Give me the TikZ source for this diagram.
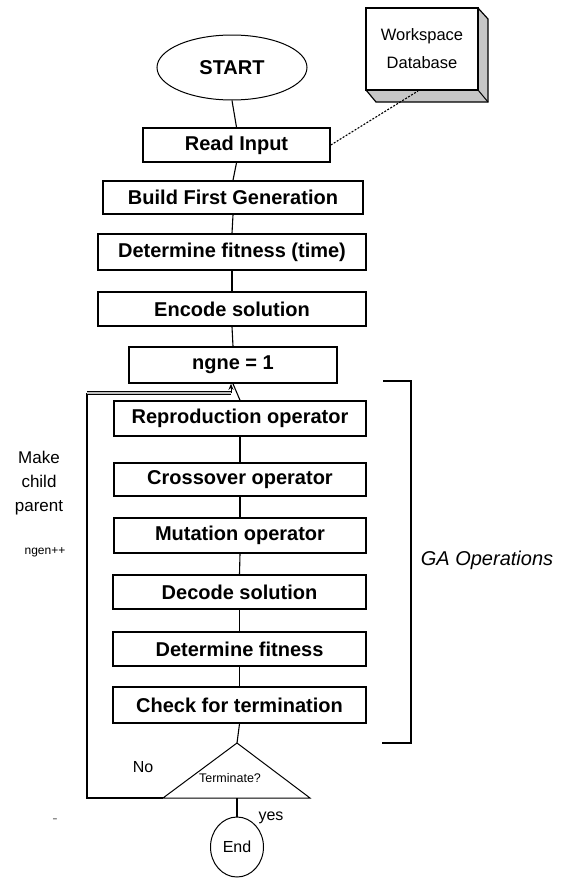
\documentclass[tikz,border=0pt]{standalone}
\usepackage{fontspec}
\setmainfont{Liberation Sans}
\usetikzlibrary{shapes.geometric,arrows.meta}
\tikzset{
  box/.style={draw, line width=1.6pt, rectangle, inner sep=0pt, font=\fontsize{20}{24}\selectfont\bfseries},
  conn/.style={line width=1.1pt},
  thin shape/.style={draw, line width=1pt, inner sep=0pt},
  lbl/.style={inner sep=0pt, font=\fontsize{16}{19}\selectfont},
}
\begin{document}
\begin{tikzpicture}[x=1pt,y=-1pt]
\useasboundingbox (0,0) rectangle (565,881);
% Workspace database box with 3D shadow
\fill[gray!45] (478,8) -- (488,19) -- (488,102) -- (376,102) -- (366,90) -- (478,90) -- cycle;
\draw[line width=1.2pt] (478,8) -- (488,19) -- (488,102) -- (376,102) -- (366,90);
\draw[line width=1pt] (478,90) -- (488,102);
\node[box, font=\fontsize{16.5}{28}\selectfont, align=center, minimum width=112pt, minimum height=82pt, fill=white] (db) at (422,49) {Workspace\\Database};
% nodes
\node[thin shape, ellipse, minimum width=150pt, minimum height=65pt, font=\fontsize{20}{24}\selectfont\bfseries] (start) at (232,67.5) {START};
\node[box, minimum width=187pt, minimum height=34pt] (read) at (236.5,145) {Read Input};
\node[box, minimum width=260pt, minimum height=33pt] (build) at (233,197.5) {Build First Generation};
\node[box, minimum width=268pt, minimum height=36pt] (fit1) at (232,252) {Determine fitness (time)};
\node[box, minimum width=268pt, minimum height=34pt] (enc) at (232,309) {Encode solution};
\node[box, minimum width=208pt, minimum height=36pt] (ngne) at (233,365) {ngne = 1};
\node[box, minimum width=252pt, minimum height=35pt] (rep) at (240,418.5) {Reproduction operator};
\node[box, minimum width=252pt, minimum height=33pt] (cross) at (240,479.5) {Crossover operator};
\node[box, minimum width=252pt, minimum height=35pt] (mut) at (240,535.5) {Mutation operator};
\node[box, minimum width=253pt, minimum height=34pt] (dec) at (239.5,592) {Decode solution};
\node[box, minimum width=253pt, minimum height=34pt] (fit2) at (239.5,649) {Determine fitness};
\node[box, minimum width=253pt, minimum height=36pt] (check) at (239.5,705) {Check for termination};
% decision triangle
\coordinate (apex) at (237,743);
\coordinate (bl) at (163,798);
\coordinate (br) at (310,798);
\coordinate (bm) at (237,798);
\draw[line width=1pt] (apex) -- (bl) -- (br) -- cycle;
\node[inner sep=0pt, font=\fontsize{12.5}{15}\selectfont] (term) at (230,778) {Terminate?};
\node[thin shape, ellipse, minimum width=53pt, minimum height=60pt, font=\fontsize{16}{19}\selectfont] (end) at (237,847) {End};
% connectors
\draw[conn] (start.south) -- (read.north);
\draw[conn, dash pattern=on 2pt off 1.5pt] (read.east) -- (418,91);
\draw[conn] (read.south) -- (build.north);
\draw[conn] (build.south) -- (fit1.north);
\draw[conn] (fit1.south) -- (enc.north);
\draw[conn] (enc.south) -- (ngne.north);
\draw[conn] (ngne.south) -- (rep.north);
\draw[conn] (rep.south) -- (cross.north);
\draw[conn] (cross.south) -- (mut.north);
\draw[conn] (mut.south) -- (dec.north);
\draw[conn] (dec.south) -- (fit2.north);
\draw[conn] (fit2.south) -- (check.north);
\draw[conn] (check.south) -- (apex);
\draw[conn] (bm) -- (end.north);
% loop back
\coordinate (lb) at (87,798);
\coordinate (lt) at (87,393);
\coordinate (lr) at (231,393);
\draw[line width=1.4pt] (bl) -- (lb) -- (lt);
\draw[line width=1pt, double=gray!50, double distance=2.5pt] (lt) -- (lr);
\draw[line width=1pt, -{Stealth[length=6pt,width=5pt]}] (lr) -- (lr |- ngne.south);
% bracket
\coordinate (bt1) at (383,381);
\coordinate (bt2) at (411,381);
\coordinate (bb2) at (411,743);
\coordinate (bb1) at (382,743);
\draw[line width=1.5pt] (bt1) -- (bt2) -- (bb2) -- (bb1);
% labels
\node[lbl, font=\fontsize{17}{24}\selectfont, align=center] (make) at (39,483) {Make\\child\\parent};
\node[lbl, font=\fontsize{12}{14}\selectfont] (ngen) at (45,552) {ngen++};
\node[lbl, font=\fontsize{20}{24}\selectfont\itshape] (ga) at (487,560) {GA Operations};
\node[lbl] (no) at (143,767) {No};
\node[lbl] (yes) at (271,818) {yes};
\node[lbl, text=gray] (dash) at (55,821) {-};
\end{tikzpicture}
\end{document}
